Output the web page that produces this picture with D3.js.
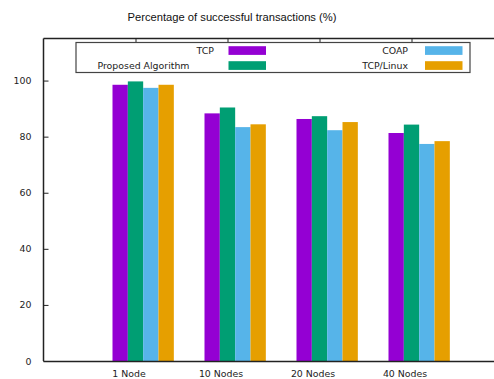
<!DOCTYPE html>
<html>
<head>
<meta charset="utf-8">
<script src="https://cdn.jsdelivr.net/npm/d3@7"></script>
<style>
  html, body { margin: 0; padding: 0; background: #fff; }
  svg { display: block; }
</style>
</head>
<body>
<svg id="chart" width="494" height="379"></svg>
<script>
// Network sizes on the x axis
const categories = ["1 Node", "10 Nodes", "20 Nodes", "40 Nodes"];
// Success rate per protocol (%)
const tcp       = [98.5, 88.3, 86.3, 81.3];
const proposed  = [99.7, 90.4, 87.3, 84.3];
const coap      = [97.4, 83.4, 82.3, 77.4];
const tcpLinux  = [98.5, 84.4, 85.2, 78.4];
const seriesNames = ["TCP", "Proposed Algorithm", "COAP", "TCP/Linux"];
const seriesColors = ["#9400d3", "#009e73", "#56b4e9", "#e69f00"];
const yTicks = [0, 20, 40, 60, 80, 100];
const title = "Percentage of successful transactions (%)";

const series = [tcp, proposed, coap, tcpLinux].map((values, k) => ({
  name: seriesNames[k], color: seriesColors[k], values
}));

const svg = d3.select("#chart");
const plotLeft = 43.5, plotBottom = 361, plotTop = 38.5;
const groupStep = 92;

// Cluster index on a linear axis: -1 at the left border
const x = d3.scaleLinear().domain([-1, 4]).range([plotLeft, plotLeft + 5 * groupStep]);
const y = d3.scaleLinear().domain([0, 115]).range([plotBottom, plotTop]);
const slot = groupStep / (series.length + 2); // bar width in a cluster with gap of 2
const fontTick = "9.4px 'DejaVu Sans', sans-serif";

// Bars
series.forEach((s, j) => {
  svg.append("g").selectAll("rect")
    .data(s.values)
    .join("rect")
    .attr("x", (d, i) => x(i) + (j - 1.5) * slot)
    .attr("width", slot)
    .attr("y", d => y(d))
    .attr("height", d => y(0) - y(d))
    .attr("fill", s.color);
});

// Y axis with inward ticks
const yAxis = svg.append("g")
  .attr("transform", `translate(${plotLeft},0)`)
  .call(d3.axisLeft(y).tickValues(yTicks).tickSize(-5).tickPadding(12));
yAxis.selectAll("text").style("font", fontTick).attr("fill", "#222");

// X axis with category labels
const xAxis = svg.append("g")
  .attr("transform", `translate(0,${plotBottom})`)
  .call(d3.axisBottom(x).tickValues(d3.range(categories.length))
    .tickFormat(i => categories[i]).tickSize(0).tickPadding(9));
xAxis.selectAll("text").style("font", fontTick).attr("fill", "#222").attr("dx", -7);

// Top border with mirrored category ticks
const topAxis = svg.append("g")
  .attr("transform", `translate(0,${plotTop})`)
  .call(d3.axisTop(x).tickValues(d3.range(categories.length)).tickSize(-4).tickFormat(""));

[yAxis, xAxis, topAxis].forEach(g => {
  g.select(".domain").attr("stroke", "#222").attr("stroke-width", 1.5);
  g.selectAll(".tick line").attr("stroke", "#222").attr("stroke-width", 1);
});
xAxis.select(".domain").attr("d", `M${plotLeft},0.5H494`);
topAxis.select(".domain").attr("d", `M${plotLeft},0H494`);
yAxis.select(".domain").attr("d", `M0,${plotBottom}V${plotTop}`);

// Title
svg.append("text")
  .attr("x", 232)
  .attr("y", 21)
  .attr("text-anchor", "middle")
  .style("font", "11.2px 'Liberation Sans', Arial, sans-serif")
  .attr("fill", "#111")
  .text(title);

// Legend: two columns, two rows; text right-aligned before each swatch
const legend = svg.append("g");
legend.append("rect")
  .attr("x", 76).attr("y", 42.5).attr("width", 394).attr("height", 30)
  .attr("fill", "#fff").attr("stroke", "#444").attr("stroke-width", 1.2);
const textEnd = [214, 189.5, 408, 408];
const colSwatch = [228.5, 425], rowY = [50.5, 65.5];
series.forEach((s, k) => {
  const col = k < 2 ? 0 : 1;
  const row = k % 2;
  legend.append("text")
    .attr("x", textEnd[k]).attr("y", rowY[row])
    .attr("dy", "0.35em")
    .attr("text-anchor", "end")
    .style("font", fontTick).attr("fill", "#222")
    .text(s.name);
  legend.append("rect")
    .attr("x", colSwatch[col]).attr("y", rowY[row] - 4.3)
    .attr("width", 37.5).attr("height", 8.7)
    .attr("fill", s.color);
});
</script>
</body>
</html>
